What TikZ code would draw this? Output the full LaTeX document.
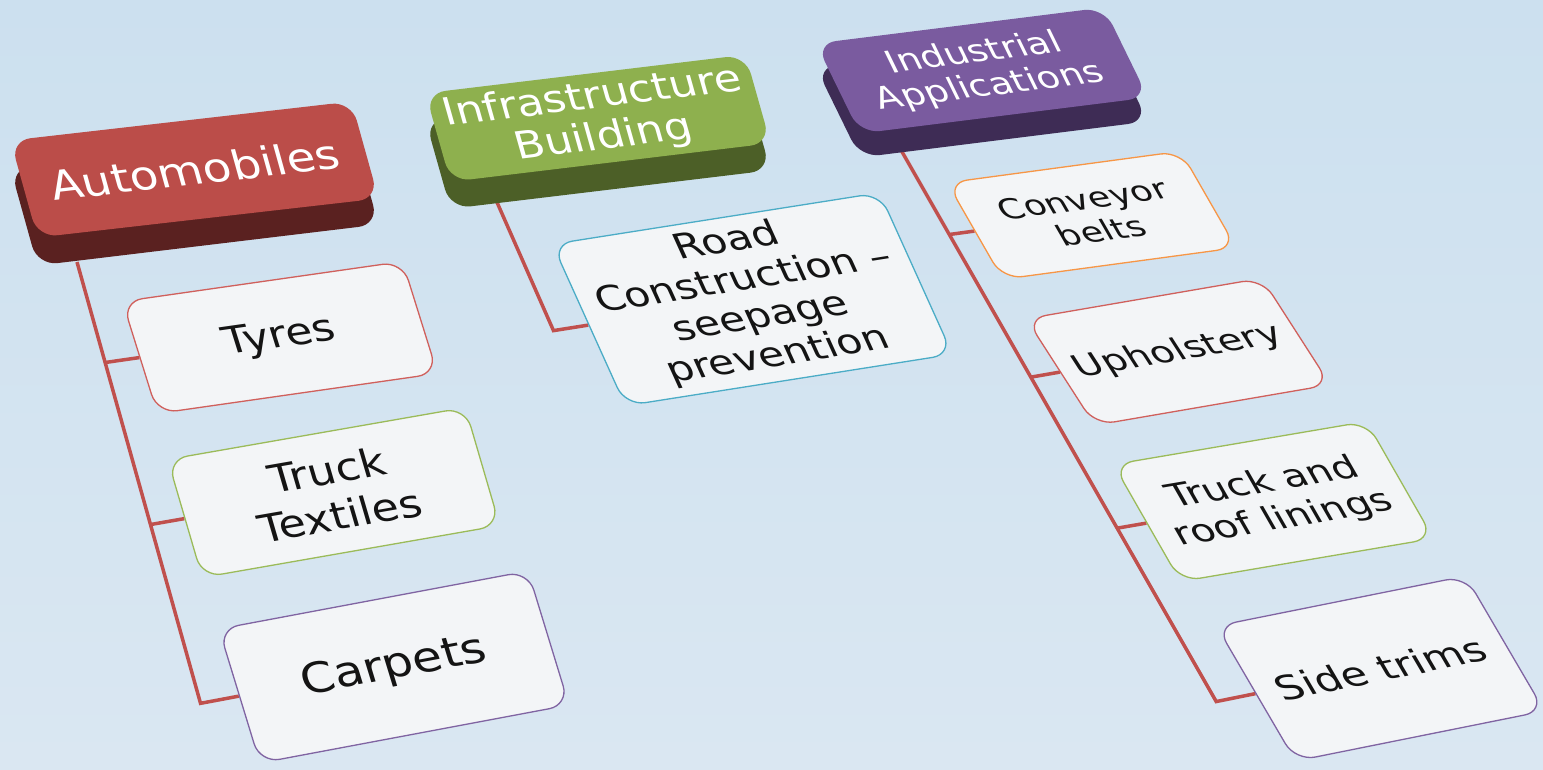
\documentclass[tikz,border=0pt]{standalone}
\usepackage{fontspec}
\setmainfont{DejaVu Sans}
\usetikzlibrary{calc}
\definecolor{bgtop}{HTML}{CCE0EF}
\definecolor{bgbot}{HTML}{DAE7F2}
\definecolor{cred}{HTML}{C0504D}
\definecolor{autotop}{HTML}{BB4D49}
\definecolor{autodark}{HTML}{5A2120}
\definecolor{infratop}{HTML}{8EB04E}
\definecolor{infradark}{HTML}{4C5F27}
\definecolor{indtop}{HTML}{7A5B9F}
\definecolor{inddark}{HTML}{3E2C55}
\definecolor{bred}{HTML}{D0605C}
\definecolor{bgreen}{HTML}{9BBB59}
\definecolor{bpurple}{HTML}{8064A2}
\definecolor{bcyan}{HTML}{4BACC6}
\definecolor{borange}{HTML}{F79646}
\definecolor{boxfill}{HTML}{F3F5F7}
\pgfdeclarelayer{bgl}
\pgfdeclarelayer{lines}
\pgfsetlayers{bgl,lines,main}
\tikzset{
  leafbox/.style={draw=#1, line width=1.3pt, fill=boxfill, rounded corners=20pt,
    align=center, text=black!92, inner sep=0pt},
  headface/.style={fill=#1, draw=none, rounded corners=20pt, align=center,
    text=white, inner sep=0pt, font=\fontsize{38}{42}\selectfont},
  headside/.style={fill=#1, draw=none, rounded corners=20pt, inner sep=0pt},
  conn/.style={draw=cred, line width=3.5pt},
}
\makeatletter
\def\pb@parse#1,#2,#3,#4,#5,#6,#7,#8\relax{\def\pTLx{#1}\def\pTLy{#2}\def\pTRx{#3}\def\pTRy{#4}\def\pBRx{#5}\def\pBRy{#6}\def\pBLx{#7}\def\pBLy{#8}}
\newcommand\pbox[4]{%
  \pb@parse#3\relax
  \pgfmathsetmacro\pEx{((\pTRx-\pTLx)+(\pBRx-\pBLx))/2}%
  \pgfmathsetmacro\pEy{((\pTRy-\pTLy)+(\pBRy-\pBLy))/2}%
  \pgfmathsetmacro\pFx{((\pBLx-\pTLx)+(\pBRx-\pTRx))/2}%
  \pgfmathsetmacro\pFy{((\pBLy-\pTLy)+(\pBRy-\pTRy))/2}%
  \pgfmathsetmacro\pCx{(\pTLx+\pTRx+\pBRx+\pBLx)/4}%
  \pgfmathsetmacro\pCy{(\pTLy+\pTRy+\pBRy+\pBLy)/4}%
  \pgfmathsetmacro\pLa{veclen(\pEx/100,\pEy/100)*100}%
  \pgfmathsetmacro\pLb{veclen(\pFx/100,\pFy/100)*100}%
  \pgfmathsetmacro\pS{\pLa/280}%
  \pgfmathsetmacro\pH{\pLb/(0.88*\pS)}%
  \pgfmathsetmacro\pa{\pEx/280}%
  \pgfmathsetmacro\pb{-1*(\pEy)/280}%
  \pgfmathsetmacro\pc{-1*(\pFx)/\pH}%
  \pgfmathsetmacro\pd{\pFy/\pH}%
  \begin{scope}[cm={\pa,\pb,\pc,\pd,(\pCx pt,-\pCy pt)}]
    \node[#2, transform shape, minimum width=280pt, minimum height=\pH pt] (#1) at (0,0) {#4};
  \end{scope}}
\makeatother
\begin{document}
\begin{tikzpicture}[x=1pt,y=1pt]
\useasboundingbox (0,0) rectangle (1543,-769);
\begin{pgfonlayer}{bgl}
  \shade[top color=bgtop, bottom color=bgbot] (0,0) rectangle (1543,-769);
\end{pgfonlayer}

% headers
\pbox{autoside}{headside=autodark}{15,168,347,128,383,224,33,266}{}
\pbox{auto}{headface=autotop}{15,140,347,102,383,198,33,238}{Automobiles}
\pbox{infraside}{headside=infradark}{433,120,738,82,778,170,443,209}{}
\pbox{infra}{headface=infratop}{433,93,738,55,778,143,443,182}{Infrastructure\\Building}
\pbox{indside}{headside=inddark}{823,67,1097,32,1155,121,853,158}{}
\pbox{ind}{headface=indtop, font=\fontsize{36}{40}\selectfont}{823,43,1097,8,1155,97,853,134}{Industrial\\Applications}

% leaves
\pbox{tyres}{leafbox=bred, font=\fontsize{43}{52}\selectfont}{125,300,400,263,440,372,155,415}{Tyres}
\pbox{textiles}{leafbox=bgreen, font=\fontsize{41}{50}\selectfont}{170,457,463,410,502,523,200,580}{Truck\\Textiles}
\pbox{carpets}{leafbox=bpurple, font=\fontsize{43}{52}\selectfont}{222,627,525,573,572,703,257,765}{Carpets}
\pbox{road}{leafbox=bcyan, font=\fontsize{35}{40}\selectfont}{555,240,877,197,955,350,623,410}{Road\\Construction --\\seepage\\prevention}
\pbox{conveyor}{leafbox=borange, font=\fontsize{42}{50}\selectfont}{948,182,1180,152,1237,247,1002,280}{Conveyor\\belts}
\pbox{uphol}{leafbox=bred, font=\fontsize{45}{52}\selectfont}{1028,317,1260,280,1332,383,1093,427}{Upholstery}
\pbox{roof}{leafbox=bgreen, font=\fontsize{43}{51}\selectfont}{1117,463,1363,423,1437,537,1177,583}{Truck and\\roof linings}
\pbox{trims}{leafbox=bpurple, font=\fontsize{46}{54}\selectfont}{1215,625,1467,577,1543,710,1297,762}{Side trims}

% connectors
\coordinate (atop) at (77,-262);
\coordinate (adir) at (222,-780);
\coordinate (itop) at (496,-200);
\coordinate (idir) at (628,-500);
\coordinate (ntop) at (901,-150);
\coordinate (ndir) at (1261,-780);
\path (intersection of tyres.west--tyres.east and atop--adir) coordinate (a1);
\path (intersection of textiles.west--textiles.east and atop--adir) coordinate (a2);
\path (intersection of carpets.west--carpets.east and atop--adir) coordinate (a3);
\path (intersection of road.west--road.east and itop--idir) coordinate (b1);
\path (intersection of conveyor.west--conveyor.east and ntop--ndir) coordinate (n1);
\path (intersection of uphol.west--uphol.east and ntop--ndir) coordinate (n2);
\path (intersection of roof.west--roof.east and ntop--ndir) coordinate (n3);
\path (intersection of trims.west--trims.east and ntop--ndir) coordinate (n4);
\begin{pgfonlayer}{lines}
  \draw[conn] (atop) -- (a3) -- (carpets.west);
  \draw[conn] (a1) -- (tyres.west);
  \draw[conn] (a2) -- (textiles.west);
  \draw[conn] (itop) -- (b1) -- (road.west);
  \draw[conn] (ntop) -- (n4) -- (trims.west);
  \draw[conn] (n1) -- (conveyor.west);
  \draw[conn] (n2) -- (uphol.west);
  \draw[conn] (n3) -- (roof.west);
\end{pgfonlayer}
\end{tikzpicture}
\end{document}
